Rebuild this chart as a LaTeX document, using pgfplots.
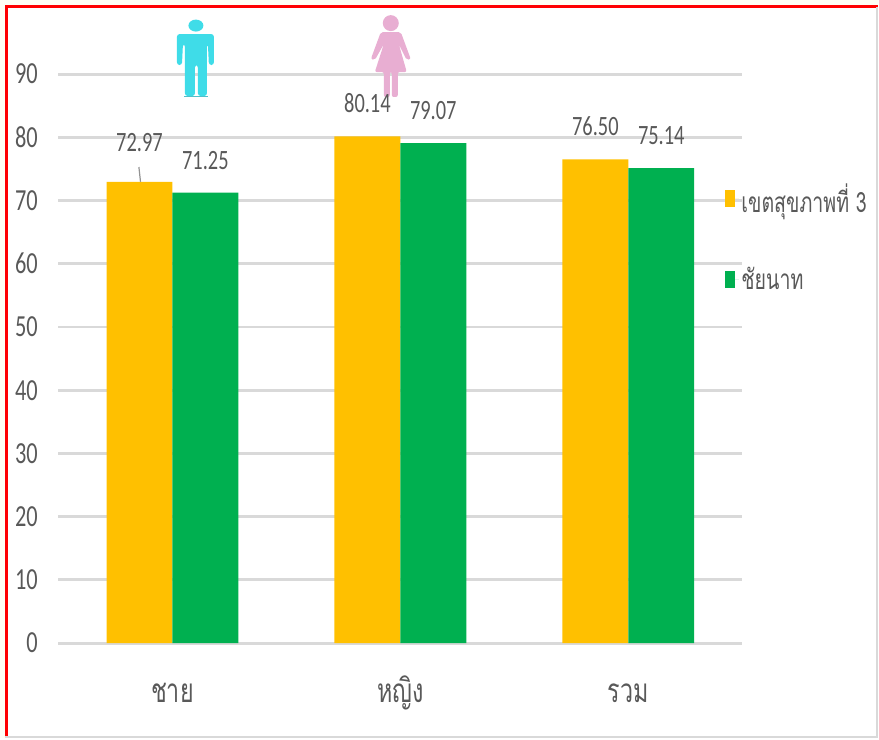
\documentclass[border=0pt]{standalone}
\usepackage{fontspec}
\usepackage{pgfplots}
\pgfplotsset{compat=1.18}
\setmainfont[FakeStretch=0.73]{Carlito}
\newfontfamily\thaifont[Script=Thai,FakeStretch=0.7]{Loma}
\definecolor{yel}{HTML}{FFC000}
\definecolor{grn}{HTML}{00B050}
\definecolor{txt}{HTML}{595959}
\definecolor{gridc}{HTML}{D9D9D9}
\definecolor{mancol}{HTML}{3FDCE8}
\definecolor{womancol}{HTML}{E8AED2}
% icons, drawn in reference pixels
\newsavebox\manicon
\newsavebox\womanicon
\sbox\manicon{\begin{tikzpicture}[x=0.75pt,y=-0.75pt]
\fill[mancol] (196,25.5) ellipse [x radius=7.5,y radius=6];
\fill[mancol,rounded corners=2pt] (177,34) -- (214,34) -- (214,65) -- (209,65) -- (208,44) -- (207,44) -- (207,96) -- (198,96) -- (198,65) -- (195,65) -- (195,96) -- (185,96) -- (185,44) -- (183,44) -- (182,65) -- (177,65) -- cycle;
\fill[mancol!70!gray] (184,96) rectangle (208,97);
\end{tikzpicture}}
\sbox\womanicon{\begin{tikzpicture}[x=0.75pt,y=-0.75pt]
\fill[womancol] (391,23) circle [radius=8];
\fill[womancol,rounded corners=1.5pt] (381,32) -- (401,32) -- (411,59) -- (407,60) -- (399,44) -- (407,72) -- (398,72) -- (398,97) -- (392,97) -- (392,72) -- (390,72) -- (390,97) -- (384,97) -- (384,72) -- (375,72) -- (384,44) -- (375,60) -- (371,59) -- cycle;
\end{tikzpicture}}
\begin{document}
\begin{tikzpicture}
% no white fill here: it would cover the lower axis layers
\path (0pt,0pt) rectangle (659.25pt,554.25pt);
\fill[yellow!4] (0pt,549pt) rectangle (659.25pt,554.25pt);
\fill[yellow!4] (0pt,0pt) rectangle (3.5pt,554.25pt);
\begin{axis}[
    set layers,
    at={(43.9pt,71.1pt)}, anchor=south west,
    scale only axis,
    width=513.75pt, height=427.5pt,
    xmin=-0.5, xmax=2.5, ymin=0, ymax=90,
    axis line style={draw=none},
    clip=false,
    xtick={0,1,2},
    xticklabels={{\thaifont ชาย},{\thaifont หญิง},{\thaifont รวม}},
    ytick={0,10,...,90},
    major tick length=0pt,
    ymajorgrids,
    grid style={gridc,line width=2.2pt},
    yticklabel style={font=\fontsize{23}{26}\selectfont,text=txt,xshift=-12pt},
    xticklabel style={font=\fontsize{25}{28}\selectfont,text=txt,text height=20pt,text depth=6pt,yshift=-21pt},
    /pgf/number format/assume math mode=true,
    ybar,
    bar width=49.5pt,
    nodes near coords,
    nodes near coords style={font=\fontsize{21}{24}\selectfont,text=txt,/pgf/number format/fixed,/pgf/number format/fixed zerofill,/pgf/number format/precision=2,anchor=south,yshift=14pt},
    legend style={at={(0.974,0.7126)},anchor=west,draw=none,fill=none,inner sep=0pt,
        font=\thaifont\fontsize{21}{22}\selectfont,text=txt,row sep=36.3pt},
    legend cell align=left,
    legend image code/.code={\fill[#1] (0pt,-6.5pt) rectangle (7.5pt,6.5pt); \path (0pt,0pt) -- (10.5pt,0pt);},
]
\addplot[draw=none,fill=yel,bar shift=-24.75pt,
    coordinate style/.condition={x==0}{yshift=5pt}]
    coordinates {(0,72.97)(1,80.14)(2,76.50)};
\addlegendentry{เขตสุขภาพที่ 3}
\addplot[draw=none,fill=grn,bar shift=24.75pt]
    coordinates {(0,71.25)(1,79.07)(2,75.14)};
\addlegendentry{ชัยนาท}
\draw[gray!85,line width=0.9pt] (axis cs:-0.147,75.3) -- (axis cs:-0.14,72.97);
\begin{pgfonlayer}{pre main}
\node[inner sep=0pt] at (axis cs:0.1009,92.5) {\usebox\manicon};
\node[inner sep=0pt] at (axis cs:0.958,92.85) {\usebox\womanicon};
\end{pgfonlayer}
\end{axis}
\draw[red,line width=2.2pt] (659.25pt,549.5pt) -- (4.8pt,549.5pt) -- (4.8pt,0pt);
\fill[gridc] (4pt,0pt) rectangle (659.25pt,1.5pt);
\fill[gridc] (658.2pt,0pt) rectangle (659.25pt,549pt);
\end{tikzpicture}
\end{document}
